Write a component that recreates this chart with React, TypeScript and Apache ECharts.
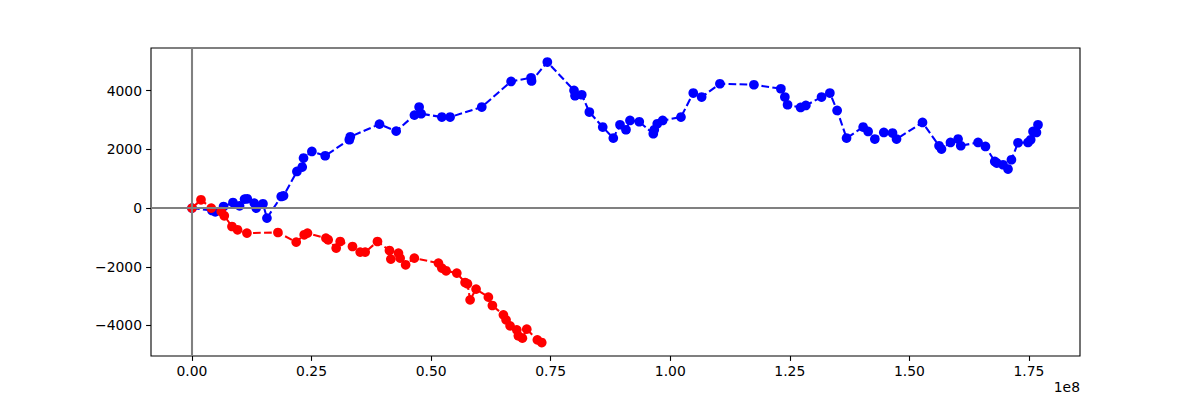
import React, { useEffect, useRef } from "react";
import * as echarts from "echarts";

// x values in millions (axis shows units of 1e8)
const blueX = [
  0, 4.18, 4.87, 6.6, 8.57, 9.95, 10.99, 11.55, 13.02, 13.43, 14.84, 15.67, 18.66, 19.14, 21.94, 23.05,
  23.32, 25.07, 27.85, 32.9, 33.1, 39.2, 42.69, 46.51, 47.49, 47.91, 52.24, 53.97, 60.59, 66.72, 70.9,
  71.0, 74.3, 79.88, 80.09, 81.49, 83.08, 85.88, 88.09, 89.49, 90.74, 91.58, 93.52, 96.45, 96.66, 97.28,
  98.41, 102.24, 104.81, 106.56, 110.38, 117.49, 123.13, 123.96, 124.53, 127.25, 128.35, 131.63, 133.37,
  134.89, 136.86, 140.33, 141.37, 142.77, 144.65, 146.47, 147.31, 152.74, 156.2, 156.71, 158.59, 160.18,
  160.74, 164.36, 165.9, 167.85, 168.27, 169.58, 170.62, 171.33, 172.71, 174.8, 175.36, 175.85, 176.56,
  176.89,
];
const blueY = [
  0, -82, -126, 55, 191, 78, 307, 317, 170, 0, 147, -341, 395, 419, 1248, 1398, 1705, 1930, 1783, 2330,
  2430, 2861, 2622, 3168, 3443, 3215, 3102, 3102, 3443, 4316, 4440, 4330, 4977, 4009, 3828, 3862, 3273,
  2761, 2386, 2840, 2669, 2986, 2942, 2533, 2669, 2874, 2986, 3102, 3920, 3784, 4237, 4203, 4067, 3784,
  3522, 3429, 3498, 3784, 3920, 3327, 2386, 2761, 2611, 2352, 2577, 2557, 2352, 2918, 2124, 2011, 2236,
  2352, 2124, 2236, 2100, 1589, 1534, 1476, 1330, 1647, 2226, 2236, 2328, 2611, 2577, 2840,
];
const redX = [
  0, 1.88, 4.03, 6.12, 6.75, 8.36, 9.53, 11.49, 17.97, 21.79, 23.46, 24.15, 28.0, 28.48, 30.15, 30.99,
  33.56, 35.17, 36.21, 38.78, 41.29, 41.58, 43.17, 43.52, 44.67, 46.49, 51.53, 52.24, 53.13, 55.37, 57.1,
  57.6, 58.15, 59.4, 61.97, 62.81, 65.11, 65.67, 66.51, 67.91, 68.24, 69.08, 70.0, 72.21, 73.13,
];
const redY = [
  0, 283, 0, -116, -262, -627, -740, -852, -832, -1159, -910, -852, -1023, -1081, -1364, -1139, -1309,
  -1500, -1500, -1139, -1445, -1739, -1534, -1705, -1933, -1705, -1875, -2045, -2137, -2216, -2536, -2580,
  -3126, -2761, -3034, -3320, -3637, -3808, -4012, -4149, -4353, -4432, -4125, -4490, -4582,
];
const xTicks = [0, 0.25, 0.5, 0.75, 1.0, 1.25, 1.5, 1.75];
const yTicks = [-4000, -2000, 0, 2000, 4000];

const FONT = "DejaVu Sans";
const FS = 13.9;

export default function App() {
  const ref = useRef<HTMLDivElement>(null);
  useEffect(() => {
    if (!ref.current) return;
    const chart = echarts.init(ref.current, null, { renderer: "svg" });
    const toPts = (xs: number[], ys: number[]) => xs.map((x, i) => [x * 1e6, ys[i]]);
    const xVals = xTicks.map((t) => t * 1e8);
    chart.setOption({
      animation: false,
      backgroundColor: "#ffffff",
      grid: {
        left: 151,
        right: 120,
        top: 48,
        bottom: 44,
        show: true,
        borderColor: "#000",
        borderWidth: 1.1,
        backgroundColor: "transparent",
      },
      xAxis: {
        type: "value",
        min: -8.57e6,
        max: 185.67e6,
        splitLine: { show: false },
        axisLine: { show: false, onZero: false },
        axisTick: {
          show: true,
          length: 4.9,
          customValues: xVals,
          lineStyle: { color: "#000", width: 1.1 },
        },
        axisLabel: {
          customValues: xVals,
          formatter: (v: number) => (v / 1e8).toFixed(2),
          color: "#000",
          fontFamily: FONT,
          fontSize: FS,
          margin: 8,
        },
      },
      yAxis: {
        type: "value",
        min: -5040,
        max: 5455,
        splitLine: { show: false },
        axisLine: { show: false, onZero: false },
        axisTick: {
          show: true,
          length: 4.9,
          customValues: yTicks,
          lineStyle: { color: "#000", width: 1.1 },
        },
        axisLabel: {
          customValues: yTicks,
          formatter: (v: number) => (v < 0 ? "\u2212" + Math.abs(v) : String(v)),
          color: "#000",
          fontFamily: FONT,
          fontSize: FS,
          margin: 9,
        },
      },
      graphic: [
        {
          type: "text",
          x: 1080,
          y: 380,
          style: {
            text: "1e8",
            fill: "#000",
            font: `${FS}px "${FONT}"`,
            textAlign: "right",
            textVerticalAlign: "top",
          },
        },
      ],
      series: [
        {
          type: "line",
          data: toPts(blueX, blueY),
          symbol: "circle",
          symbolSize: 9.7,
          showAllSymbol: true,
          itemStyle: { color: "#0000ff" },
          lineStyle: { color: "#0000ff", width: 2.08, type: [7.7, 3.3] },
          z: 2,
        },
        {
          type: "line",
          data: toPts(redX, redY),
          symbol: "circle",
          symbolSize: 9.7,
          showAllSymbol: true,
          itemStyle: { color: "#ff0000" },
          lineStyle: { color: "#ff0000", width: 2.08, type: [7.7, 3.3] },
          z: 3,
        },
        {
          type: "line",
          data: [],
          z: 4,
          markLine: {
            silent: true,
            symbol: ["none", "none"],
            label: { show: false },
            animation: false,
            lineStyle: { color: "#808080", width: 2.08, type: "solid" },
            data: [{ xAxis: 0 }, { yAxis: 0 }],
          },
        },
      ],
    });
    return () => chart.dispose();
  }, []);
  return (
    <div
      ref={ref}
      style={{ position: "absolute", left: 0, top: 0, width: 1200, height: 400 }}
    />
  );
}
